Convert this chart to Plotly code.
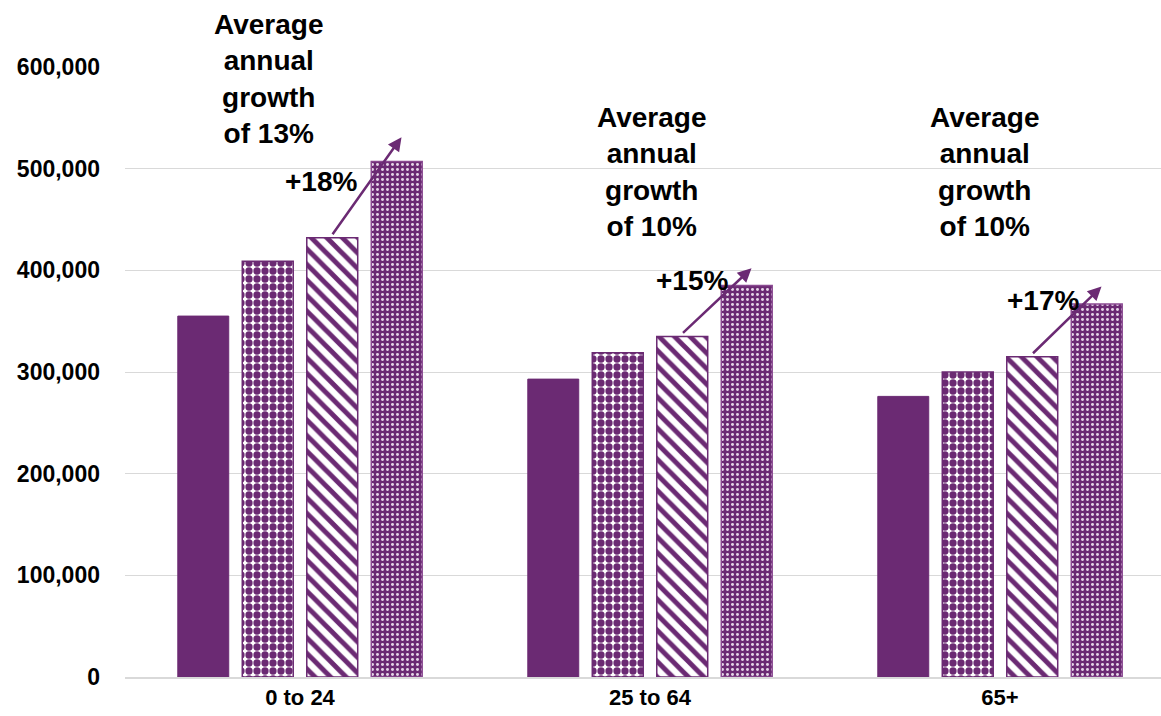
import plotly.graph_objects as go

# Age groups on the category axis
age_groups = ["0 to 24", "25 to 64", "65+"]

# Four consecutive periods per age group
period_1 = [355000, 293000, 276000]
period_2 = [409000, 319000, 300000]
period_3 = [432000, 335000, 315000]
period_4 = [507000, 385000, 367000]

# Growth labels
avg_growth = ["13%", "10%", "10%"]
last_growth = ["+18%", "+15%", "+17%"]

y_ticks = [0, 100000, 200000, 300000, 400000, 500000, 600000]

PURPLE = "#6B2A73"
FONT = "Liberation Sans, Arial, sans-serif"

fig = go.Figure()

fig.add_bar(
    x=age_groups, y=period_1, name="Period 1",
    marker=dict(color=PURPLE, line=dict(color=PURPLE, width=1)),
)
fig.add_bar(
    x=age_groups, y=period_2, name="Period 2",
    marker=dict(
        color=PURPLE,
        line=dict(color=PURPLE, width=1.5),
        pattern=dict(shape=".", bgcolor="white", fgcolor=PURPLE,
                     size=8, solidity=0.65, fillmode="replace"),
    ),
)
fig.add_bar(
    x=age_groups, y=period_3, name="Period 3",
    marker=dict(
        color=PURPLE,
        line=dict(color=PURPLE, width=1.5),
        pattern=dict(shape="\\", bgcolor="white", fgcolor=PURPLE,
                     size=11, solidity=0.45, fillmode="replace"),
    ),
)
fig.add_bar(
    x=age_groups, y=period_4, name="Period 4",
    marker=dict(
        color=PURPLE,
        line=dict(color="#8a4a91", width=1.5),
        pattern=dict(shape=".", bgcolor=PURPLE, fgcolor="#e6d6e8",
                     size=5, solidity=0.28, fillmode="replace"),
    ),
)

annotations = []

# Average-growth captions (x position, y in data units)
avg_pos = [(-0.09, 588000), (1.005, 497000), (1.957, 497000)]
for (ax_, ay_), g in zip(avg_pos, avg_growth):
    annotations.append(dict(
        x=ax_, y=ay_, xref="x", yref="y", showarrow=False,
        text=f"Average<br>annual<br>growth<br>of {g}",
        font=dict(family=FONT, size=28, color="black", weight="bold"),
        align="center",
    ))

# Growth arrows from the third bar to above the fourth bar
label_dx = [0.06, 0.12, 0.123]
for i in range(len(age_groups)):
    start_y = period_3[i] + 2000
    tip_y = period_4[i] + (24000 if i == 0 else 17000)
    annotations.append(dict(
        x=i + 0.29, y=tip_y, ax=i + 0.09, ay=start_y,
        xref="x", yref="y", axref="x", ayref="y",
        text="", showarrow=True, arrowhead=2, arrowsize=1.1,
        arrowwidth=2.5, arrowcolor=PURPLE,
    ))
    annotations.append(dict(
        x=i + label_dx[i], y=period_3[i] + 55000, xref="x", yref="y",
        text=last_growth[i], showarrow=False,
        font=dict(family=FONT, size=28, color="black", weight="bold"),
    ))

fig.update_layout(
    width=1161, height=716,
    margin=dict(l=125, r=0, t=67, b=39),
    paper_bgcolor="white", plot_bgcolor="white",
    barmode="group", bargap=0.263, bargroupgap=0.21,
    showlegend=False,
    annotations=annotations,
    xaxis=dict(
        type="category", range=[-0.5, 2.46],
        showgrid=False, showline=True, linecolor="#d9d9d9", linewidth=1.5,
        ticks="", tickfont=dict(family=FONT, size=22, color="black", weight="bold"),
    ),
    yaxis=dict(
        range=[0, 600000], tickvals=y_ticks,
        ticktext=[f"{v:,}" for v in y_ticks],
        showgrid=True, gridcolor="#d9d9d9", gridwidth=1,
        zeroline=False, showline=False, ticks="",
        ticklabelstandoff=24,
        tickfont=dict(family=FONT, size=23, color="black", weight="bold"),
    ),
)

fig.write_html("out.html")
